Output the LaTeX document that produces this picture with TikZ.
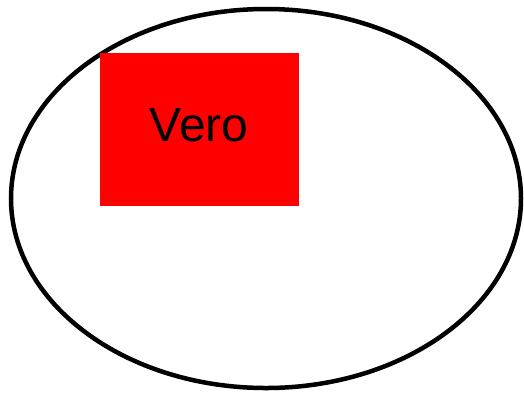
\documentclass[tikz,border=0pt]{standalone}
\usepackage{fontspec}
\setmainfont{Liberation Sans}

\begin{document}
\begin{tikzpicture}[
    x=1pt, y=-1pt,
    outline/.style={line width=4.5pt, draw=black},
    label/.style={font=\fontsize{48}{48}\selectfont, inner sep=0pt}
]
\useasboundingbox (0,0) rectangle (524,392);

% outer ellipse
\draw[outline] (266,198.5) ellipse [x radius=255, y radius=189.5];

% red box with its text
\fill[red] (100,53) rectangle (299,206);
\node[label, anchor=base] (vero) at (199,141) {Vero};

\end{tikzpicture}
\end{document}
